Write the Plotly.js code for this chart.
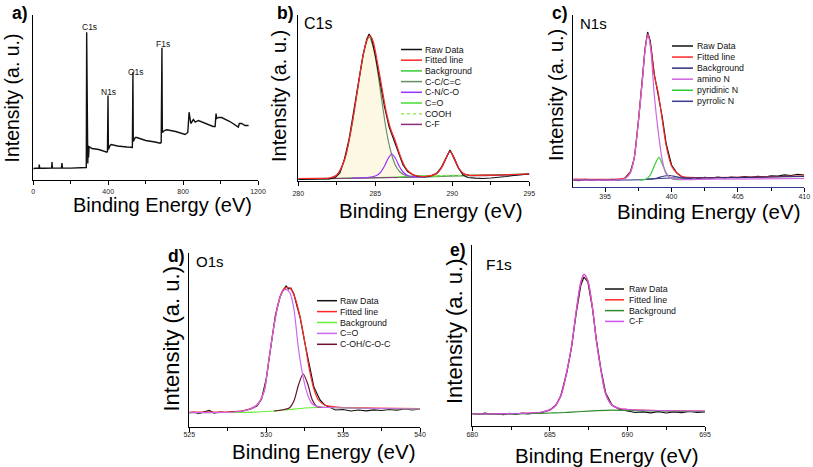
<!DOCTYPE html>
<html><head><meta charset="utf-8">
<script src="https://cdn.plot.ly/plotly-3.0.1.min.js"></script>
<style>html,body{margin:0;padding:0;background:#fff;}#chart{width:813px;height:467px;}</style>
</head><body><div id="chart"></div>
<script>
// ================= DATA =================
// (a) survey spectrum
const surveyEnergy = [0,10,30,32,34,60,98,100,102,130,150,153,156,200,250,280,283,285,287,289,291,293,295,298,304,313,350,393,396,399,401,405,410,416,450,500,526,529,532,534,540,545,553,600,650,677,683,687,689,695,700,713,760,811,825,832,836,841,855,865,882,920,960,971,976,980,990,1006,1050,1095,1100,1113,1130,1150];
const surveyIntensity = [10.7,11.2,11.4,15,11.5,11.3,11.5,17.5,11.5,11.4,11.5,16.5,11.5,11.4,11.6,11.7,12,147.3,40,20,16,34,22,33,32.3,31,30,27.3,28,84,30,33,34,35,33.5,32.5,32.3,31.5,107.3,38,41,42,42,39,37.5,36.3,37,131.7,47,48,49,49.7,48,45,47,67.3,60,56,60,57.3,59,56,53,53,66,61,62,62,58,52.3,56,56,54,54];
const surveyPeakLabels = ['C1s','N1s','O1s','F1s'];
const surveyTicks = [0,400,800,1200];

// (b) C1s
const c1sNames = ['Raw Data','Fitted line','Background','C-C/C=C','C-N/C-O','C=O','COOH','C-F'];
const c1sRawE = [280,280.5,281,281.5,282,282.4,282.7,283,283.3,283.6,283.9,284.2,284.45,284.6,284.75,285.0,285.3,285.6,285.9,286.2,286.5,286.8,287.1,287.4,287.8,288.2,288.6,289.0,289.3,289.6,289.85,290.1,290.4,290.7,291.0,291.5,292,292.5,293,293.5,294,294.5,295];
const c1sRawI = [1.5,1.9,1.6,2.1,2.2,3.5,8,22,42,68,98,126,142,147,143,126,100,74,54,42,28,16,9.5,6.5,4.5,4,5,8,14,24,31,24,13,6,3.5,2.8,2.5,3,3.5,4.5,5.5,6.5,7];
const c1sFitE = [280,281,282,282.5,283,283.3,283.6,283.9,284.2,284.45,284.65,284.85,285.1,285.4,285.7,286.0,286.3,286.6,286.9,287.2,287.6,288.1,288.6,289.0,289.3,289.55,289.85,290.15,290.4,290.7,291.1,292,293,294,295];
const c1sFitI = [2.5,2.6,3,6,21,41,67,97,125,141,145.5,140,122,96,70,52,40,26,15,9,5.5,4.5,5.3,7.8,13.5,21.5,30,21.5,13.5,7.8,5.8,5.8,6,6.5,7];
const c1sBgE = [280,283,286,289,292,295];
const c1sBgI = [1.8,2.6,3.6,4.8,5.8,6.8];
const c1sCCE = [280,281,282,282.3,282.6,282.9,283.2,283.5,283.8,284.1,284.35,284.6,284.85,285.1,285.4,285.7,286.0,286.3,286.6,286.9,287.3,288,290,292,295];
const c1sCCI = [2,2.3,2.8,4,8,17,33,57,86,115,135,144,135,115,83,52,30,16,9,6,4.5,4.2,5,5.8,6.8];
const c1sCNE = [283.5,284.5,285.0,285.3,285.6,285.85,286.07,286.3,286.55,286.8,287.1,287.5,288.5];
const c1sCNI = [3,3.5,5,8,15,23,27,23,15,9,5.5,4.3,4.3];
const c1sCOE = [286.5,287.2,287.8,288.4,289.2];
const c1sCOI = [3.9,4.5,5.3,4.8,4.9];
const c1sCOOHE = [288.8,289.4,290.0,290.6,291.3];
const c1sCOOHI = [5.1,5.5,6.0,5.7,5.6];
const c1sCFE = [280,284,288.6,289.0,289.3,289.55,289.85,290.15,290.4,290.7,291.1,295];
const c1sCFI = [1.8,3,5,7.5,13,21,29.5,21,13,7.5,5.6,6.8];

// (c) N1s
const n1sNames = ['Raw Data','Fitted line','Background','amino N','pyridinic N','pyrrolic N'];
const n1sRawE = [392.6,393,393.5,394,394.5,395,395.5,396,396.5,396.9,397.2,397.5,397.8,398.0,398.2,398.4,398.7,399.0,399.3,399.6,400.0,400.4,400.8,401.2,401.6,402,402.5,403,403.5,404,404.5,405,405.5,406,406.5,407,407.5,408,408.5,409,409.5,410];
const n1sRawI = [7,6.4,7.6,6.7,7.5,6.5,7.7,7,9,15,29,65,108,138,155,146,113,93,70,43,22,14,10,8.5,9.6,8.5,9.6,8.8,9.9,9,10,9.4,10.4,9.6,10.7,10,11.2,10.8,12.2,11.5,12.6,12];
const n1sFitE = [392.6,396,396.5,396.9,397.2,397.5,397.8,398.0,398.2,398.4,398.7,399.0,399.3,399.6,400.0,400.4,400.8,401.5,403,406,410];
const n1sFitI = [8,8,9,15,30,66,107,137,153,143,112,94,67,41,21,14,10.5,9.5,9.5,10,11];
const n1sBgE = [392.6,396,398,399,400,401,403,406,410];
const n1sBgI = [7,7,7.5,8.5,9,9,9.2,9.6,10.5];
const n1sAminoE = [392.6,396,396.5,396.9,397.2,397.5,397.8,398.0,398.23,398.45,398.7,399.0,399.3,399.6,400.0,400.5,403,410];
const n1sAminoI = [7,7.2,8.5,14,30,65,105,135,153,135,92,55,27,13,8.5,7.5,7.8,8.5];
const n1sPyridE = [397.6,398.1,398.4,398.7,399.05,399.3,399.6,399.9,400.3,400.8];
const n1sPyridI = [7,8,12,21,29.7,23,14,9,7.5,7.3];
const n1sPyrrE = [398.0,398.8,399.3,399.8,400.3,400.8,401.6];
const n1sPyrrI = [7.5,8.5,10.5,11.5,10.5,9,8.3];

// (d) O1s
const o1sNames = ['Raw Data','Fitted line','Background','C=O','C-OH/C-O-C'];
const o1sRawE = [525,525.3,525.6,526,526.3,526.6,527,527.4,527.8,528.2,528.6,529,529.4,529.7,530,530.3,530.6,530.9,531.1,531.3,531.45,531.6,531.8,532.0,532.2,532.5,532.85,533.1,533.5,533.8,534.1,534.5,535,535.5,536,536.5,537,537.5,538,538.5,539,539.5,540];
const o1sRawI = [14,15,13.5,15,16.5,14,15,14.5,15.5,15,16.5,18,21,28,48,80,112,130,137,141,138,139,133,121,110,85,60,40,27,22,20,17,17.5,16,17,16.2,17.2,16.5,17.5,16.8,18,17,18];
const o1sFitE = [525,528,528.8,529.4,529.85,530.2,530.5,530.8,531.05,531.35,531.6,531.9,532.2,532.5,532.8,533.1,533.4,533.8,534.3,535,537,540];
const o1sFitI = [15,15.5,17.5,22,35,70,101,125,136,139.5,138,128,110,86,58,38,27,22,20.5,19.5,19,18.5];
const o1sBgE = [525,528,529.5,530.5,531.5,532.5,533.3,534,535,537,540];
const o1sBgI = [14.3,14.5,15,16,17.5,19,19.5,19.5,19,18.5,18];
const o1sCOE = [525,528,528.8,529.4,529.85,530.2,530.5,530.8,531.05,531.3,531.55,531.8,532.1,532.4,532.7,533.0,533.4,534,535,540];
const o1sCOI = [14.3,15,17,22,35,70,100,124,135,137.7,134,118,78,50,32,23,20,19.5,19,18];
const o1sCOHE = [530.5,531.0,531.5,531.8,532.1,532.4,532.7,533.0,533.3,533.7];
const o1sCOHI = [16,17,19,26,42,53,43,27,20.5,19.5];

// (e) F1s
const f1sNames = ['Raw Data','Fitted line','Background','C-F'];
const f1sRawE = [680,680.4,680.8,681.2,681.6,682,682.4,682.8,683.2,683.6,684,684.5,685,685.4,685.7,686.1,686.4,686.7,687.0,687.2,687.45,687.75,688.0,688.3,688.6,689.0,689.5,690,690.5,691,691.5,692,692.5,693,693.5,694,694.5,695];
const f1sRawI = [12.5,11.5,12.8,11.8,12.2,11.3,12.6,11.5,12.8,12.2,13,13.5,16,21,30,54,79,113,141,149,144,117,86,56,33,21,16.5,15,13.5,14.2,13.2,14.3,13,14.2,13.4,14.5,13.5,14];
const f1sPeakE = [680,683,684.5,685.2,685.7,686.1,686.4,686.7,687.0,687.2,687.45,687.75,688.0,688.3,688.6,689.0,689.5,690,692,695];
const f1sFitI = [12,12.5,14,18,30,55,80,115,144,151.5,145,118,85,55,32,21,17.5,16.5,15.5,15];
const f1sCFI = [12,12.5,14,18,30,55,80,115,144,152,145,118,85,55,32,21,17.5,16.5,15.5,15];
const f1sBgE = [680,682,684,685,686,687,688,689,690,692,695];
const f1sBgI = [12,12,12.5,13,13.5,14.5,15.3,15.8,15.5,15,14.5];

const xTitle = 'Binding Energy (eV)';
const yTitle = 'Intensity (a. u.)';

// ================= STYLE / LAYOUT =================
const W = 813, H = 467;
const fx = p => p / W, fy = p => 1 - p / H;
const FONT = 'Liberation Sans, Arial, Helvetica, sans-serif';
const RAW = '#111111', FIT = '#ff2626';

function line(x, y, xa, ya, color, o) {
  o = o || {};
  return {type:'scatter', mode:'lines', x:x, y:y, xaxis:xa, yaxis:ya, showlegend:false, hoverinfo:'skip',
    line:{color:color, width:o.width || 1.2, shape:o.shape || 'linear', smoothing:o.shape==='spline'?0.8:undefined, dash:o.dash || 'solid'},
    fill:o.fill || 'none', fillcolor:o.fillcolor};
}
const S = {shape:'spline'};

// panel geometry (pixels): left, right, top, bottom
const P = {
  a:{l:33.3, r:258, t:15, b:179.5},
  b:{l:298.3, r:529.3, t:15, b:181},
  c:{l:573.3, r:804.3, t:15, b:187},
  d:{l:189.3, r:420, t:253, b:427},
  e:{l:472.3, r:705, t:245, b:426}
};

const colB = {bg:'#33cc33', cc:'#6b8f62', cn:'#9933ff', co:'#44dd33', cooh:'#99ee66', cf:'#8b2f7a'};
const colC = {bg:'#2b2f7a', amino:'#d063e0', pyrid:'#33cc33', pyrr:'#3b3b8c'};
const colD = {bg:'#66ee33', co:'#cc66ee', coh:'#6b1030'};
const colE = {bg:'#2e8b2e', cf:'#cc55ee'};

const data = [
  // a
  line(surveyEnergy, surveyIntensity, 'x', 'y', RAW, {width:1.4}),
  // b
  line(c1sBgE, c1sBgI, 'x2', 'y2', colB.bg, S),
  line(c1sCCE, c1sCCI, 'x2', 'y2', colB.cc, {shape:'spline', fill:'tonexty', fillcolor:'rgba(252,246,218,0.75)'}),
  line(c1sCFE, c1sCFI, 'x2', 'y2', colB.cf, S),
  line(c1sCOE, c1sCOI, 'x2', 'y2', colB.co, S),
  line(c1sCOOHE, c1sCOOHI, 'x2', 'y2', colB.cooh, {shape:'spline', dash:'dot'}),
  line(c1sCNE, c1sCNI, 'x2', 'y2', colB.cn, S),
  line(c1sRawE, c1sRawI, 'x2', 'y2', RAW),
  line(c1sFitE, c1sFitI, 'x2', 'y2', FIT, S),
  // c
  line(n1sRawE, n1sRawI, 'x3', 'y3', RAW),
  line(n1sFitE, n1sFitI, 'x3', 'y3', FIT, S),
  line(n1sBgE, n1sBgI, 'x3', 'y3', colC.bg, S),
  line(n1sPyrrE, n1sPyrrI, 'x3', 'y3', colC.pyrr, S),
  line(n1sPyridE, n1sPyridI, 'x3', 'y3', colC.pyrid, S),
  line(n1sAminoE, n1sAminoI, 'x3', 'y3', colC.amino, S),
  // d
  line(o1sRawE, o1sRawI, 'x4', 'y4', RAW),
  line(o1sFitE, o1sFitI, 'x4', 'y4', FIT, S),
  line(o1sBgE, o1sBgI, 'x4', 'y4', colD.bg, S),
  line(o1sCOHE, o1sCOHI, 'x4', 'y4', colD.coh, S),
  line(o1sCOE, o1sCOI, 'x4', 'y4', colD.co, S),
  // e
  line(f1sRawE, f1sRawI, 'x5', 'y5', RAW),
  line(f1sPeakE, f1sFitI, 'x5', 'y5', FIT, S),
  line(f1sBgE, f1sBgI, 'x5', 'y5', colE.bg, S),
  line(f1sPeakE, f1sCFI, 'x5', 'y5', colE.cf, S)
];

function xAxis(p, range, dtick, minorDtick, yId, lineColor, labelStandoff) {
  return {domain:[fx(p.l), fx(p.r)], range:range, anchor:yId, showline:true, linecolor:lineColor || '#000', linewidth:1.3,
    ticks:'outside', ticklen:4, tickwidth:1, tickcolor:'#000', dtick:dtick, tick0:range[0] - (range[0] % dtick),
    minor:{dtick:minorDtick, ticks:'outside', ticklen:3, tickwidth:1, tickcolor:'#000', showgrid:false},
    tickfont:{family:FONT, size:7, color:'#222'}, ticklabelstandoff:labelStandoff || 0,
    showgrid:false, zeroline:false, automargin:false, fixedrange:true};
}
function yAxis(p, xId) {
  return {domain:[fy(p.b), fy(p.t)], range:[0, p.b - p.t], anchor:xId, showline:true, linecolor:'#000', linewidth:1.3,
    ticks:'', showticklabels:false, showgrid:false, zeroline:false, automargin:false, fixedrange:true};
}

const annotations = [];
const shapes = [];
function paperText(text, px, py, size, opts) {
  opts = opts || {};
  annotations.push({xref:'paper', yref:'paper', x:fx(px), y:fy(py), text:text, showarrow:false,
    textangle:opts.angle || 0, xanchor:opts.xanchor || 'center', yanchor:'middle', borderpad:0,
    font:{family:FONT, size:size, color:opts.color || '#000'}});
}
// axis titles
[[162.5,204.5,20],[430.5,210,20.5],[708.5,211.5,20.5],[323.5,451,20.5],[606.5,455,20.5]]
  .forEach(t => paperText(xTitle, t[0], t[1], t[2]));
[[11.5,98,19.5],[278.5,96.5,20],[555.5,95.5,20],[171,338.5,22],[454.5,331.5,22]]
  .forEach(t => paperText(yTitle, t[0], t[1], t[2], {angle:-90}));
// panel letters
[['<b>a)</b>',20,13],['<b>b)</b>',285,13.5],['<b>c)</b>',560,13.5],['<b>d)</b>',176,255.5],['<b>e)</b>',457.5,250]]
  .forEach(a => paperText(a[0], a[1], a[2], 17.5));
// panel titles
paperText('C1s', 303, 24, 16, {xanchor:'left'});
paperText('N1s', 579, 23, 15, {xanchor:'left'});
paperText('O1s', 195, 261, 15, {xanchor:'left'});
paperText('F1s', 485, 264.5, 15.5, {xanchor:'left'});
// survey peak labels (data coords)
const peakLabelPos = [[300,152.5],[404,87.5],[548,107.5],[695,135.5]];
surveyPeakLabels.forEach((t, i) => annotations.push({xref:'x', yref:'y', x:peakLabelPos[i][0], y:peakLabelPos[i][1], text:t,
  showarrow:false, xanchor:'center', yanchor:'middle', font:{family:FONT, size:8.5, color:'#111'}}));

// legends (key line + label per row)
function legend(names, colors, dashes, keyL, keyR, textX, y0, dy) {
  names.forEach((n, i) => {
    const y = y0 + i * dy;
    shapes.push({type:'line', xref:'paper', yref:'paper', x0:fx(keyL), x1:fx(keyR), y0:fy(y), y1:fy(y),
      line:{color:colors[i], width:1.5, dash:dashes[i] || 'solid'}});
    annotations.push({xref:'paper', yref:'paper', x:fx(textX), y:fy(y), text:n, showarrow:false, borderpad:0,
      xanchor:'left', yanchor:'middle', font:{family:FONT, size:8.8, color:'#111'}});
  });
}
legend(c1sNames, [RAW, FIT, colB.bg, colB.cc, colB.cn, colB.co, colB.cooh, colB.cf], [0,0,0,0,0,0,'dot',0], 401, 422, 424, 49.5, 10.7);
legend(n1sNames, [RAW, FIT, colC.bg, colC.amino, colC.pyrid, colC.pyrr], [], 672, 693, 696, 46, 11.06);
legend(o1sNames, [RAW, FIT, colD.bg, colD.co, colD.coh], [], 317, 337, 339, 300.7, 10.9);
legend(f1sNames, [RAW, FIT, colE.bg, colE.cf], [], 605, 624, 628, 289, 10.8);

const layout = {
  width:W, height:H, margin:{l:0, r:0, t:0, b:0}, paper_bgcolor:'#fff', plot_bgcolor:'rgba(0,0,0,0)',
  showlegend:false, font:{family:FONT},
  xaxis:  Object.assign(xAxis(P.a, [0,1200], 400, 200, 'y', null, 1), {tickvals:surveyTicks}),
  xaxis2: xAxis(P.b, [280,295], 5, 2.5, 'y2', null, 1),
  xaxis3: xAxis(P.c, [392.6,410], 5, 2.5, 'y3', '#2a3a9c', -2),
  xaxis4: xAxis(P.d, [525,540], 5, 2.5, 'y4', null, -4),
  xaxis5: xAxis(P.e, [680,695], 5, 2.5, 'y5', null, -3),
  yaxis:  yAxis(P.a, 'x'),
  yaxis2: yAxis(P.b, 'x2'),
  yaxis3: yAxis(P.c, 'x3'),
  yaxis4: yAxis(P.d, 'x4'),
  yaxis5: yAxis(P.e, 'x5'),
  annotations:annotations, shapes:shapes
};
layout.xaxis3.tick0 = 395;
layout.xaxis3.minor.tick0 = 395;

Plotly.newPlot('chart', data, layout, {staticPlot:true, displayModeBar:false});
</script>
</body></html>
